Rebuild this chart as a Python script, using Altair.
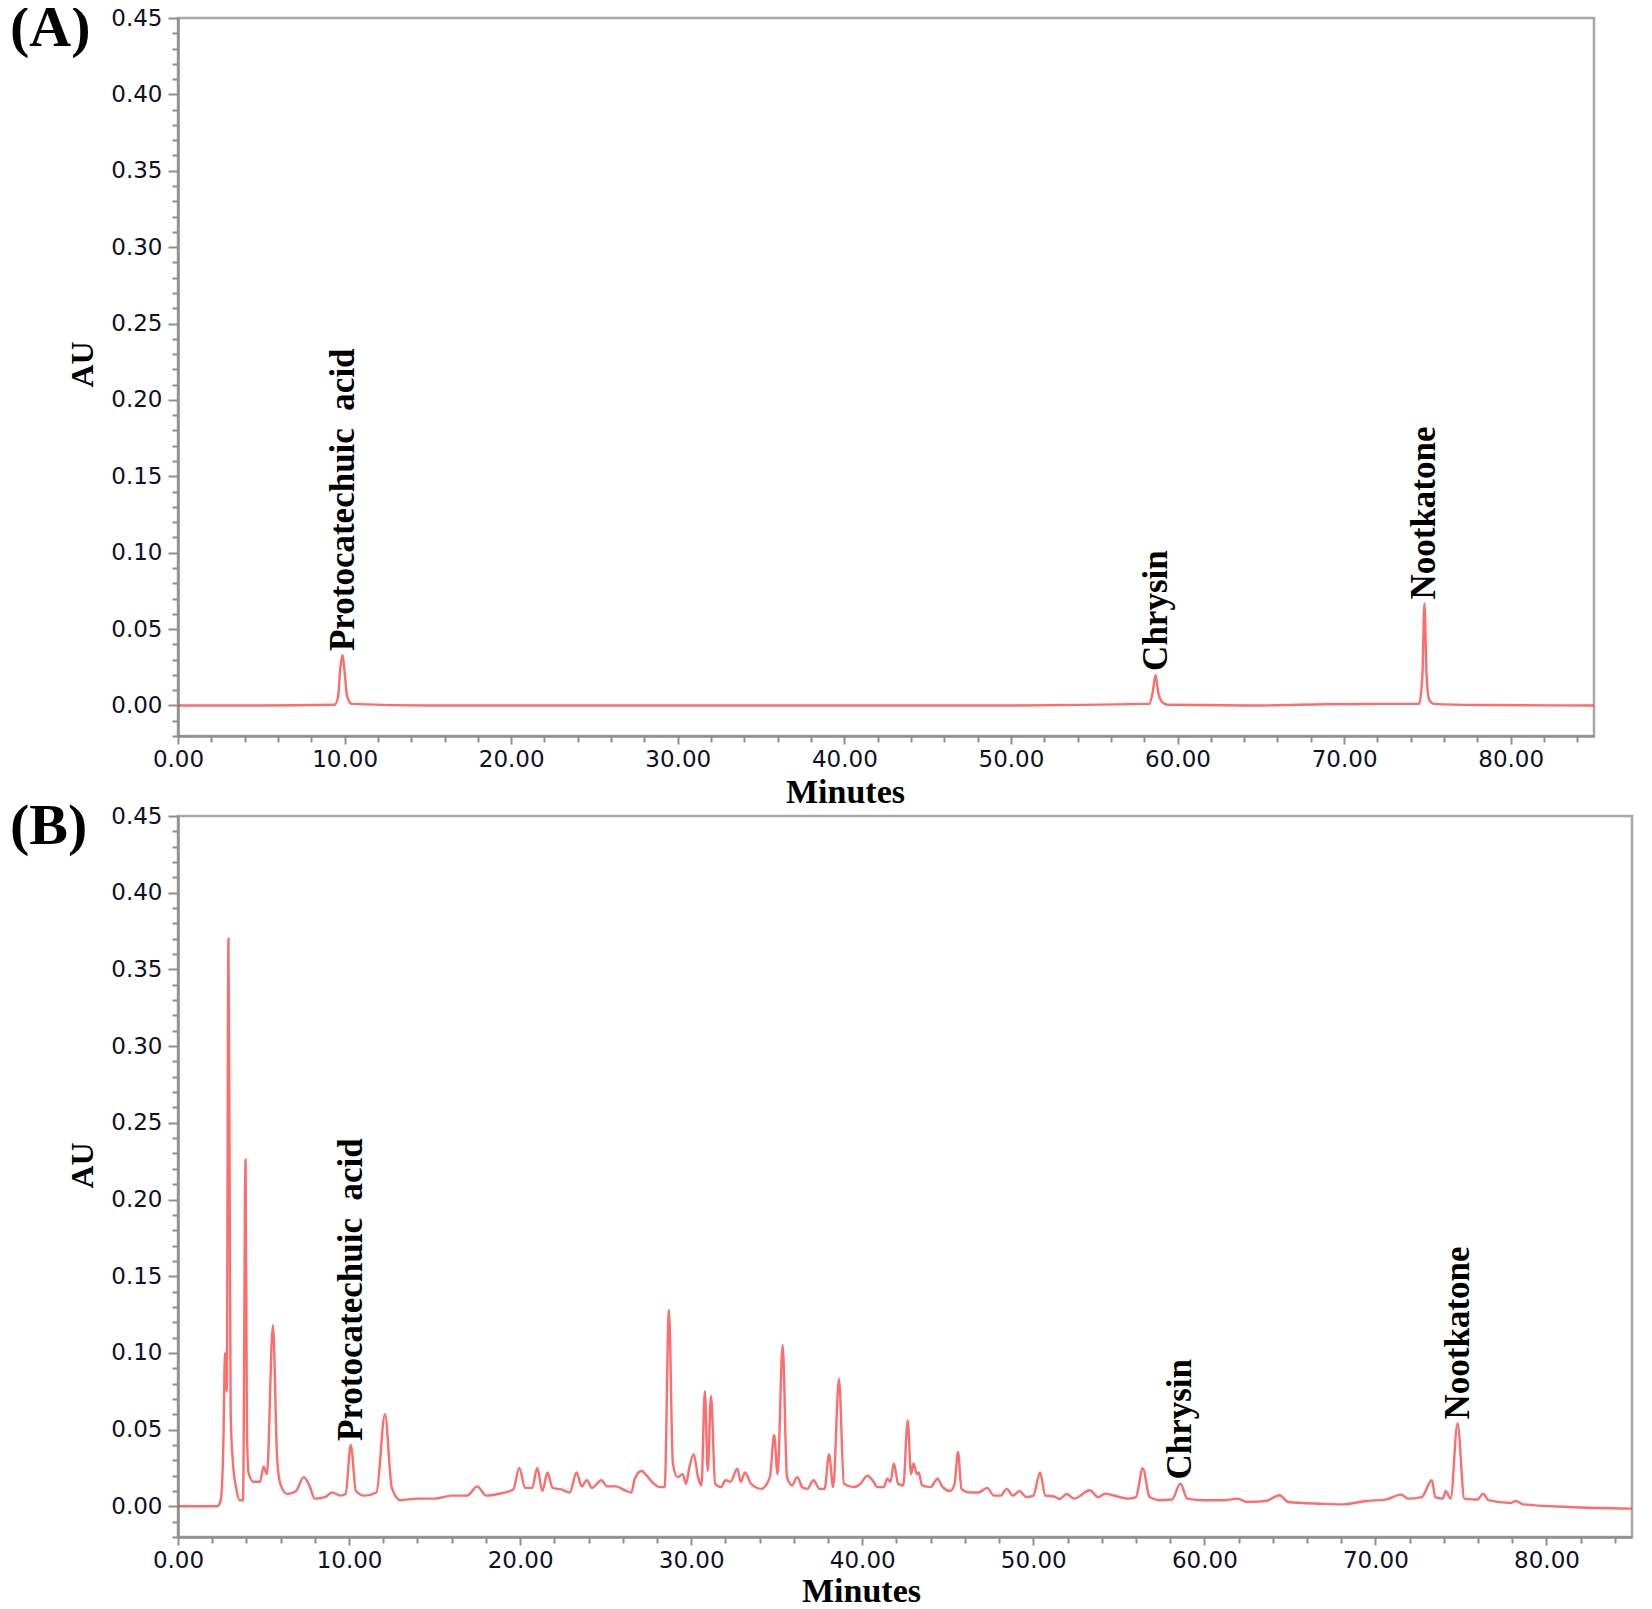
import altair as alt
import pandas as pd

# ---------------- data ----------------
PEAK_NAMES = ["Protocatechuic\u00a0 acid", "Chrysin", "Nootkatone"]

# Panel (A): standards mixture
A_TIME = [0.0, 5.0, 9.4, 9.6, 9.75, 9.88, 10.0, 10.15, 10.45, 15.0, 20.0, 30.0, 40.0,
          50.0, 58.3, 58.5, 58.68, 58.85, 59.1, 59.4, 65.0, 69.0, 73.0, 74.5, 74.7,
          74.82, 74.95, 75.1, 75.4, 78.0, 85.0]
A_AU = [0.0, 0.0, 0.0005, 0.005, 0.025, 0.033, 0.022, 0.006, 0.001, 0.0, 0.0, 0.0, 0.0,
        0.0, 0.001, 0.008, 0.020, 0.008, 0.002, 0.0005, 0.0, 0.0008, 0.001, 0.001, 0.020,
        0.0667, 0.020, 0.004, 0.001, 0.0003, 0.0]
A_PEAK_TIME = [9.88, 58.68, 74.82]
A_PEAK_AU = [0.033, 0.020, 0.0667]

# Panel (B): sample
B_TIME = [0.0, 2.3, 2.5, 2.65, 2.75, 2.85, 2.95, 3.02, 3.08, 3.2, 3.4, 3.6, 3.8, 3.95,
          4.03, 4.12, 4.4, 4.8, 5.0, 5.2, 5.55, 5.8, 6.0, 6.4, 6.9, 7.35, 7.7, 8.0, 8.6,
          9.0, 9.5, 9.8, 10.1, 10.4, 10.9, 11.6, 12.1, 12.5, 13.0, 14.0, 15.0, 16.0,
          16.9, 17.5, 18.0, 18.7, 19.6, 19.95, 20.3, 20.7, 21.0, 21.3, 21.6, 21.9, 22.4,
          22.9, 23.3, 23.6, 23.9, 24.2, 24.75, 25.1, 25.6, 26.2, 26.5, 26.7, 27.1, 27.4,
          27.7, 28.2, 28.45, 28.7, 28.93, 29.2, 29.5, 29.7, 29.9, 30.15, 30.4, 30.6, 30.8,
          30.97, 31.16, 31.4, 31.75, 32.0, 32.3, 32.7, 32.9, 33.15, 33.5, 34.1, 34.6,
          34.85, 35.05, 35.35, 35.6, 35.9, 36.2, 36.5, 36.8, 37.15, 37.5, 37.8, 38.06,
          38.3, 38.64, 38.93, 39.5, 39.9, 40.3, 40.6, 40.9, 41.26, 41.46, 41.65, 41.85,
          42.1, 42.4, 42.66, 42.85, 43.0, 43.2, 43.3, 43.5, 44.0, 44.4, 44.7, 45.15,
          45.4, 45.6, 45.8, 46.3, 46.8, 47.3, 47.7, 48.1, 48.45, 48.8, 49.2, 49.6, 50.0,
          50.4, 50.7, 51.2, 51.55, 51.95, 52.4, 53.3, 53.8, 54.2, 54.66, 55.56, 56.0,
          56.4, 56.8, 57.35, 58.1, 58.6, 59.0, 60.0, 61.2, 61.95, 62.5, 63.6, 64.4, 64.9,
          66.8, 68.1, 69.5, 70.6, 71.5, 71.9, 72.7, 73.3, 73.5, 73.95, 74.1, 74.4, 74.8,
          75.2, 75.96, 76.3, 76.6, 77.9, 78.2, 78.65, 81.3, 85.0]
B_AU = [0.0, 0.0, 0.004, 0.04, 0.100, 0.075, 0.370, 0.210, 0.060, 0.030, 0.012, 0.004,
        0.004, 0.226, 0.050, 0.022, 0.016, 0.016, 0.026, 0.021, 0.118, 0.030, 0.014,
        0.008, 0.010, 0.019, 0.013, 0.005, 0.006, 0.009, 0.007, 0.008, 0.040, 0.010,
        0.007, 0.009, 0.060, 0.012, 0.004, 0.005, 0.005, 0.007, 0.007, 0.013, 0.007,
        0.008, 0.011, 0.025, 0.012, 0.012, 0.025, 0.010, 0.022, 0.012, 0.011, 0.009,
        0.022, 0.013, 0.017, 0.012, 0.017, 0.013, 0.013, 0.010, 0.009, 0.018, 0.023,
        0.020, 0.016, 0.0125, 0.0125, 0.128, 0.028, 0.019, 0.021, 0.0147, 0.0257, 0.034,
        0.019, 0.0136, 0.075, 0.023, 0.072, 0.0147, 0.0125, 0.017, 0.016, 0.0246, 0.016,
        0.022, 0.0147, 0.0114, 0.019, 0.0465, 0.021, 0.105, 0.019, 0.0136, 0.019, 0.0125,
        0.0114, 0.017, 0.0114, 0.0114, 0.034, 0.0125, 0.083, 0.0147, 0.0125, 0.0147,
        0.020, 0.017, 0.0125, 0.0125, 0.018, 0.016, 0.028, 0.0147, 0.0136, 0.056, 0.021,
        0.028, 0.021, 0.022, 0.0136, 0.0125, 0.018, 0.0125, 0.010, 0.0147, 0.0355,
        0.0114, 0.009, 0.009, 0.012, 0.007, 0.007, 0.0114, 0.007, 0.0099, 0.006, 0.007,
        0.022, 0.007, 0.0064, 0.0048, 0.008, 0.005, 0.0105, 0.006, 0.0083, 0.0072, 0.005,
        0.006, 0.0247, 0.006, 0.004, 0.0044, 0.0148, 0.005, 0.004, 0.004, 0.005, 0.0028,
        0.0035, 0.0072, 0.0028, 0.0017, 0.0013, 0.0035, 0.0044, 0.0076, 0.005, 0.006,
        0.017, 0.006, 0.005, 0.010, 0.005, 0.054, 0.005, 0.0044, 0.0083, 0.004, 0.0022,
        0.0035, 0.0013, -0.0004, -0.0015]
B_PEAK_TIME = [10.1, 58.6, 74.8]
B_PEAK_AU = [0.040, 0.0148, 0.054]

X_MAJOR = [0, 10, 20, 30, 40, 50, 60, 70, 80]
X_TICKS = [0, 2, 4, 6, 8, 10, 12, 14, 16, 18, 20, 22, 24, 26, 28, 30, 32, 34, 36, 38,
           40, 42, 44, 46, 48, 50, 52, 54, 56, 58, 60, 62, 64, 66, 68, 70, 72, 74, 76,
           78, 80, 82, 84]
Y_MAJOR = [0.00, 0.05, 0.10, 0.15, 0.20, 0.25, 0.30, 0.35, 0.40, 0.45]
Y_TICKS = [round(i * 0.01, 2) for i in range(-2, 46)]

X_DOMAIN = [0, 85]
Y_DOMAIN = [-0.02, 0.45]

LINE_COLOR = "#ff3333"
LABEL_FONT = "Liberation Serif"
TICK_FONT = "DejaVu Sans"


def panel(times, values, pk_times, pk_values, letter, width, height, title_x, title_y,
          title_y_au):
    line_df = pd.DataFrame({"t": times, "au": values})
    lab_df = pd.DataFrame({"name": PEAK_NAMES, "t": pk_times, "au": pk_values})
    let_df = pd.DataFrame({"letter": [letter]})

    xs = alt.Scale(domain=X_DOMAIN, nice=False, zero=False)
    ys = alt.Scale(domain=Y_DOMAIN, nice=False, zero=False)

    xaxis = alt.Axis(
        values=X_TICKS,
        tickCount=200,
        labelExpr="datum.value % 10 === 0 ? format(datum.value, '.2f') : ''",
        tickSize={"condition": {"test": "datum.value % 10 === 0", "value": 8}, "value": 6},
        labelPadding=4,
        labelFlush=False,
        labelOverlap=False,
        grid=False,
        title="Minutes",
        titleX=title_x,
        titleY=title_y,
        titleAlign="center",
        titleBaseline="middle",
        titleFont=LABEL_FONT,
        titleFontWeight="bold",
        titleFontSize=34,
        titleColor="#000000",
    )
    yaxis = alt.Axis(
        values=Y_TICKS,
        tickCount=200,
        labelExpr="round(datum.value * 100) % 5 === 0 ? format(datum.value, '.2f') : ''",
        tickSize={"condition": {"test": "round(datum.value * 100) % 5 === 0", "value": 10},
                  "value": 6},
        labelPadding=6,
        labelFlush=False,
        labelOverlap=False,
        grid=False,
        title="AU",
        titleX=-96,
        titleY=title_y_au,
        titleAngle=270,
        titleAlign="center",
        titleBaseline="middle",
        titleFont=LABEL_FONT,
        titleFontWeight="bold",
        titleFontSize=32,
        titleColor="#000000",
    )

    line = alt.Chart(line_df).mark_line(
        color=LINE_COLOR, strokeWidth=2.4, opacity=0.72, interpolate="monotone", clip=True
    ).encode(
        x=alt.X("t:Q", scale=xs, axis=xaxis),
        y=alt.Y("au:Q", scale=ys, axis=yaxis),
    )
    labels = alt.Chart(lab_df).mark_text(
        angle=270, align="left", baseline="middle", dx=4,
        font=LABEL_FONT, fontWeight="bold", fontSize=35, color="#000000",
    ).encode(
        x=alt.X("t:Q", scale=xs),
        y=alt.Y("au:Q", scale=ys),
        text="name:N",
    )
    tag = alt.Chart(let_df).mark_text(
        align="left", baseline="top", font=LABEL_FONT, fontWeight="bold",
        fontSize=58, color="#000000",
    ).encode(
        x=alt.value(-168),
        y=alt.value(-18),
        text="letter:N",
    )
    return alt.layer(line, labels, tag).properties(width=width, height=height)


pa = panel(A_TIME, A_AU, A_PEAK_TIME, A_PEAK_AU, "(A)", 1416, 718, 667, 56, 346)
pb = panel(B_TIME, B_AU, B_PEAK_TIME, B_PEAK_AU, "(B)", 1454, 721, 683, 54, 349)

chart = alt.vconcat(pa, pb, spacing=80, bounds="flush").properties(
    padding={"top": -10, "left": 0, "right": 0, "bottom": 0}, background="white"
).configure_view(
    stroke="#a8a8a8", strokeWidth=2.5
).configure_axis(
    domainColor="#8f8f8f", domainWidth=2.5, tickColor="#8f8f8f", tickWidth=2,
    labelFont=TICK_FONT, labelFontSize=23, labelColor="#101028",
)

chart.save("out.html", embed_options={"renderer": "svg", "actions": False})
